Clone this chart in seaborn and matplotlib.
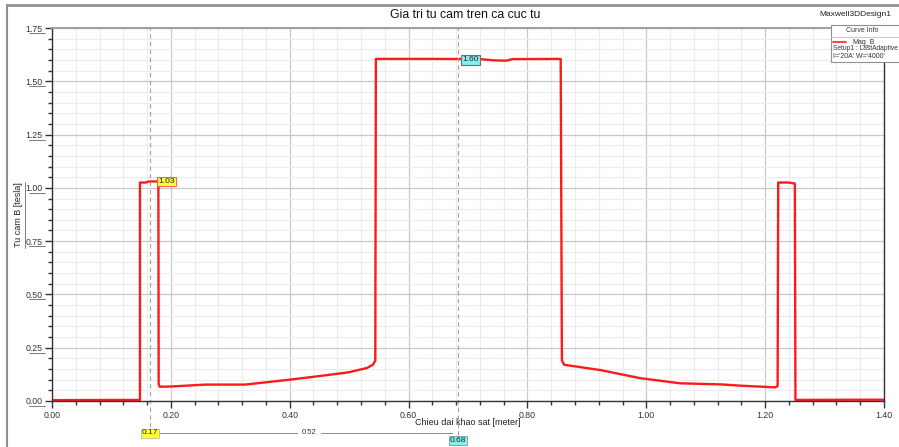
import matplotlib
matplotlib.use("Agg")
import matplotlib.pyplot as plt
import seaborn as sns
import numpy as np
from matplotlib.ticker import MultipleLocator, FixedLocator
from matplotlib.lines import Line2D
from matplotlib.patches import Rectangle

# ---- data ----
pos_m = [0.000, 0.100, 0.148, 0.148, 0.158, 0.163, 0.179, 0.1795, 0.181, 0.200, 0.258,
         0.325, 0.400, 0.450, 0.500, 0.530, 0.540, 0.544, 0.545, 0.650, 0.720,
         0.745, 0.765, 0.775, 0.856, 0.858, 0.862, 0.923, 0.990, 1.057, 1.125,
         1.158, 1.217, 1.221, 1.222, 1.240, 1.250, 1.251, 1.350, 1.400]
mag_b = [0.004, 0.005, 0.005, 1.025, 1.025, 1.030, 1.030, 0.080, 0.067, 0.068, 0.077,
         0.077, 0.100, 0.117, 0.135, 0.155, 0.170, 0.190, 1.605, 1.605, 1.604,
         1.598, 1.597, 1.604, 1.605, 0.190, 0.170, 0.145, 0.107, 0.083, 0.078,
         0.072, 0.064, 0.070, 1.025, 1.025, 1.020, 0.005, 0.006, 0.006]

marker_x = [0.165, 0.683]
marker_y = [1.03, 1.60]
marker_labels = ["1.03", "1.60"]
marker_xlabels = ["0.17", "0.68"]
delta_label = "0.52"
x_ticks = [0.00, 0.20, 0.40, 0.60, 0.80, 1.00, 1.20, 1.40]
y_ticks = [0.00, 0.25, 0.50, 0.75, 1.00, 1.25, 1.50, 1.75]

sns.set_style("white")
plt.rcParams["font.family"] = ["Liberation Sans", "DejaVu Sans"]

W, H = 899, 447
fig = plt.figure(figsize=(W / 100, H / 100), dpi=100)
fig.patch.set_facecolor("white")

def fx(px):
    return px / W

def fy(py):
    return 1 - py / H

AX_L, AX_R, AX_T, AX_B = 52, 884, 28, 401
ax = fig.add_axes([fx(AX_L), fy(AX_B), fx(AX_R) - fx(AX_L), fy(AX_T) - fy(AX_B)])

# grid
ax.set_xlim(0, 1.40)
ax.set_ylim(0, 1.75)
ax.xaxis.set_major_locator(FixedLocator(x_ticks))
ax.yaxis.set_major_locator(FixedLocator(y_ticks))
ax.xaxis.set_minor_locator(MultipleLocator(0.04))
ax.yaxis.set_minor_locator(MultipleLocator(0.05))
ax.grid(which="major", color="#c8c8c8", lw=0.9)
ax.grid(which="minor", color="#ececec", lw=0.8)
ax.set_axisbelow(True)

sns.lineplot(x=pos_m, y=mag_b, estimator=None, sort=False, color="#ff1a1a",
             lw=1.7, ax=ax, legend=False)

# spines
for s in ["left", "bottom", "right"]:
    ax.spines[s].set_color("#333333")
    ax.spines[s].set_linewidth(1.0)
ax.spines["top"].set_color("#a0a0a0")
ax.spines["top"].set_linewidth(1.5)

ax.tick_params(axis="both", which="major", direction="out", length=5, width=1.0,
               color="#333333", labelsize=6.3, pad=2)
ax.tick_params(axis="both", which="minor", direction="out", length=3, width=1.0,
               color="#333333")
ax.tick_params(axis="x", which="both", top=False, bottom=True)
ax.tick_params(axis="y", which="both", left=True, right=False)
ax.set_xticklabels([f"{v:.2f}" for v in x_ticks], color="#333333")
ax.set_yticklabels([f"{v:.2f}" for v in y_ticks], color="#333333")

ax.set_xlabel("Chieu dai khao sat [meter]", fontsize=6.5, labelpad=1, color="#222222")
ax.xaxis.set_label_coords(0.5, -0.045)
ax.set_ylabel("Tu cam B [tesla]", fontsize=6.5, labelpad=2, color="#222222")
ax.yaxis.set_label_coords(-(AX_L - 23) / (AX_R - AX_L), 0.5)

# underlines of y tick labels (Ansys style)
for v in y_ticks:
    py = AX_B - v / 1.75 * (AX_B - AX_T) + 5
    fig.add_artist(Line2D([fx(29), fx(45)], [fy(py), fy(py)], color="#666666", lw=0.6))
fig.add_artist(Line2D([fx(25), fx(25)], [fy(182), fy(248)], color="#666666", lw=0.6))

# marker lines
ax.axvline(marker_x[0], color="#a0a0a0", lw=0.8, ls=(0, (4, 3)), ymin=-0.07, ymax=1,
           clip_on=False)
ax.axvline(marker_x[1], color="#a0a0a0", lw=0.8, ls=(0, (4, 3)), ymin=-0.09, ymax=1,
           clip_on=False)

ax.annotate(marker_labels[0], xy=(marker_x[0], marker_y[0]), xytext=(6, 0),
            textcoords="offset points", fontsize=6, va="center", ha="left",
            bbox=dict(boxstyle="square,pad=0.15", fc="#ffff33", ec="#ff6060", lw=0.8))
ax.annotate(marker_labels[1], xy=(marker_x[1], marker_y[1]), xytext=(3, 0),
            textcoords="offset points", fontsize=6, va="center", ha="left",
            bbox=dict(boxstyle="square,pad=0.15", fc="#80f0f0", ec="#707070", lw=0.8))

# bottom marker labels
fig.text(fx(150), fy(433), marker_xlabels[0], fontsize=6, ha="center", va="center",
         bbox=dict(boxstyle="square,pad=0.12", fc="#ffff33", ec="#c0c0a0", lw=0.6))
fig.text(fx(458), fy(440), marker_xlabels[1], fontsize=6, ha="center", va="center",
         bbox=dict(boxstyle="square,pad=0.12", fc="#80f0f0", ec="#70a0a0", lw=0.6))
fig.add_artist(Line2D([fx(160), fx(297)], [fy(433), fy(433)], color="#888888", lw=0.7))
fig.add_artist(Line2D([fx(321), fx(452)], [fy(433), fy(433)], color="#888888", lw=0.7))
fig.text(fx(309), fy(433), delta_label, fontsize=5.5, ha="center", va="center",
         color="#333333")

# header band / frame
fig.add_artist(Line2D([fx(7), fx(899)], [fy(5), fy(5)], color="#909090", lw=2.0))
fig.add_artist(Line2D([fx(7), fx(7)], [fy(5), fy(447)], color="#909090", lw=1.5))
fig.text(fx(465), fy(15), "Gia tri tu cam tren ca cuc tu", fontsize=8.8, ha="center",
         va="center", color="#111111")
fig.text(fx(891), fy(15), "Maxwell3DDesign1", fontsize=6, ha="right", va="center",
         color="#222222")

# legend box (Curve Info)
fig.add_artist(Rectangle((fx(831), fy(62)), fx(899) - fx(831) + 0.01, fy(25) - fy(62),
                         fc="white", ec="#909090", lw=0.8, zorder=5))
fig.add_artist(Line2D([fx(831), fx(899)], [fy(37), fy(37)], color="#c0c0c0", lw=0.6,
                      zorder=6))
fig.text(fx(862), fy(31), "Curve Info", fontsize=5, ha="center", va="center",
         color="#333333", zorder=7)
fig.add_artist(Line2D([fx(833), fx(846)], [fy(42), fy(42)], color="#ff2020", lw=1.2,
                      zorder=7))
fig.text(fx(852), fy(42), "Mag_B", fontsize=5, ha="left", va="center", color="#333333",
         zorder=7)
fig.text(fx(833), fy(49), "Setup1 : LastAdaptive", fontsize=4.8, ha="left", va="center",
         color="#333333", zorder=7)
fig.text(fx(833), fy(56), "I='20A' W='4000'", fontsize=5, ha="left", va="center",
         color="#333333", zorder=7)

fig.savefig("out.png", dpi=100)
